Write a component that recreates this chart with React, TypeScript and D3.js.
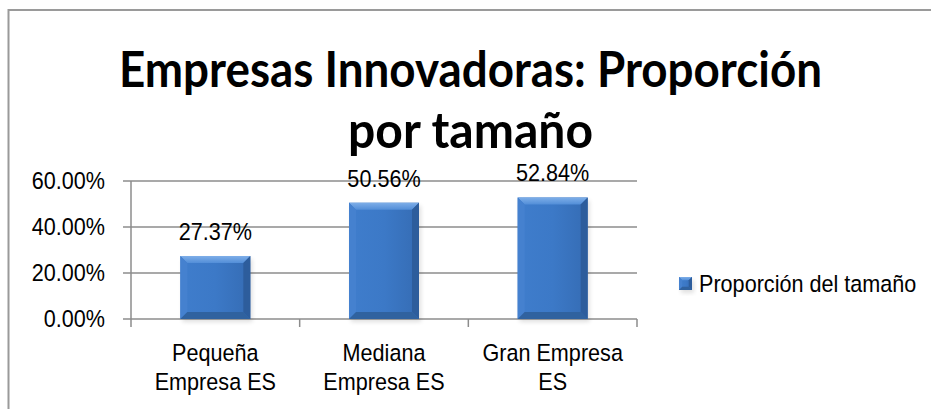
import React from "react";
import * as d3 from "d3";

const categories: string[][] = [
  ["Pequeña", "Empresa ES"],
  ["Mediana", "Empresa ES"],
  ["Gran Empresa", "ES"],
];
const categoryKeys = ["Pequeña Empresa ES", "Mediana Empresa ES", "Gran Empresa ES"];
const values = [0.2737, 0.5056, 0.5284];
const valueLabels = ["27.37%", "50.56%", "52.84%"];
const yTicks = [0, 0.2, 0.4, 0.6];
const yTickLabels = ["0.00%", "20.00%", "40.00%", "60.00%"];
const titleLines = ["Empresas Innovadoras: Proporción", "por tamaño"];
const seriesName = "Proporción del tamaño";

const W = 931;
const H = 409;
const plotLeft = 131;
const plotRight = 637;
const plotTop = 181;
const plotBottom = 319;
const labelFont = "'Liberation Sans', Arial, sans-serif";
const FS = 23.5;
const SX = 0.92;

function T({ x, y, anchor, children, dy }: { x: number; y: number; anchor?: string; children: React.ReactNode; dy?: string }) {
  return (
    <text
      transform={`translate(${x},${y}) scale(${SX},1)`}
      textAnchor={anchor || "start"}
      dy={dy}
      fontFamily={labelFont}
      fontSize={FS}
      fill="#000"
    >
      {children}
    </text>
  );
}

function Bar({ x, y, w, h, bev }: { x: number; y: number; w: number; h: number; bev: number }) {
  const b = Math.min(bev, w / 4, h / 3);
  const x2 = x + w;
  const y2 = y + h;
  return (
    <g>
      <rect x={x + 2} y={y + 3} width={w} height={h} fill="#000" opacity={0.12} filter="url(#blur)" />
      <rect x={x} y={y} width={w} height={h} fill="url(#barBody)" />
      <polygon points={`${x},${y} ${x2},${y} ${x2 - b},${y + b} ${x + b},${y + b}`} fill="url(#bevTop)" />
      <polygon points={`${x},${y} ${x + b},${y + b} ${x + b},${y2 - b} ${x},${y2}`} fill="#4581cf" />
      <polygon points={`${x2},${y} ${x2},${y2} ${x2 - b},${y2 - b} ${x2 - b},${y + b}`} fill="#2d5d9c" />
      <polygon points={`${x},${y2} ${x + b},${y2 - b} ${x2 - b},${y2 - b} ${x2},${y2}`} fill="#30629f" />
    </g>
  );
}

export default function App() {
  const x = d3.scaleBand<string>().domain(categoryKeys).range([plotLeft, plotRight]).padding(0);
  const y = d3.scaleLinear().domain([0, 0.6]).range([plotBottom, plotTop]);
  const barW = x.bandwidth() * 0.415;
  const boundaries = [...categoryKeys.map((c) => x(c)!), plotRight];

  return (
    <svg width={W} height={H} style={{ display: "block", position: "absolute", left: 0, top: 0 }}>
      <defs>
        <linearGradient id="barBody" x1="0" y1="0" x2="1" y2="0">
          <stop offset="0" stopColor="#3f7dcc" />
          <stop offset="0.5" stopColor="#3c79c7" />
          <stop offset="1" stopColor="#356cb4" />
        </linearGradient>
        <linearGradient id="bevTop" x1="0" y1="0" x2="0" y2="1">
          <stop offset="0" stopColor="#7eaee8" />
          <stop offset="1" stopColor="#528ed8" />
        </linearGradient>
        <filter id="blur" x="-20%" y="-20%" width="140%" height="140%">
          <feGaussianBlur stdDeviation="2" />
        </filter>
      </defs>
      <rect x={0} y={0} width={W} height={H} fill="#fff" />
      <rect x={8.5} y={10} width={W + 20} height={H + 20} fill="none" stroke="#9a9a9a" strokeWidth={2} />

      {/* title */}
      {titleLines.map((t, i) => (
        <text
          key={t}
          x={470.5}
          y={i === 0 ? 87 : 148}
          textAnchor="middle"
          fontFamily="Lato, 'Open Sans', sans-serif"
          fontWeight={700}
          fontSize={50}
          fill="#000"
          textLength={i === 0 ? 703 : 245}
          lengthAdjust="spacingAndGlyphs"
        >
          {t}
        </text>
      ))}

      {/* gridlines */}
      {yTicks.map((t, i) => (
        <g key={t}>
          <line x1={123} x2={plotRight} y1={y(t)} y2={y(t)} stroke="#8c8c8c" strokeWidth={1.5} />
          <T x={105} y={y(t)} anchor="end" dy="0.36em">
            {yTickLabels[i]}
          </T>
        </g>
      ))}
      <line x1={plotLeft} x2={plotLeft} y1={plotTop} y2={plotBottom + 8} stroke="#8c8c8c" strokeWidth={1.5} />
      {boundaries.slice(1).map((bx, i) => (
        <line key={i} x1={bx} x2={bx} y1={plotBottom} y2={plotBottom + 8} stroke="#8c8c8c" strokeWidth={1.5} />
      ))}

      {/* bars */}
      {categoryKeys.map((c, i) => {
        const cx = x(c)! + x.bandwidth() / 2;
        const top = y(values[i]);
        return (
          <g key={c}>
            <Bar x={cx - barW / 2} y={top} w={barW} h={plotBottom - top} bev={7} />
            <T x={cx} y={top - 16} anchor="middle">
              {valueLabels[i]}
            </T>
          </g>
        );
      })}

      {/* category labels */}
      {categoryKeys.map((c, i) => {
        const cx = x(c)! + x.bandwidth() / 2;
        return (
          <g key={c}>
            {categories[i].map((ln, j) => (
              <T key={j} x={cx} y={361 + j * 29} anchor="middle">
                {ln}
              </T>
            ))}
          </g>
        );
      })}

      {/* legend */}
      <Bar x={679} y={277} w={13} h={13} bev={4} />
      <T x={699} y={292}>
        {seriesName}
      </T>
    </svg>
  );
}
